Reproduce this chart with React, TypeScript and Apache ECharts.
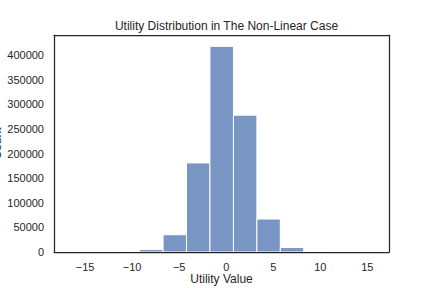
import React, { useEffect, useRef } from "react";
import * as echarts from "echarts";

const title = "Utility Distribution in The Non-Linear Case";
const xLabel = "Utility Value";
const yLabel = "Count";
const binEdges = [-16.68, -14.19, -11.70, -9.20, -6.71, -4.22, -1.73, 0.77, 3.26, 5.75, 8.24, 10.73, 13.23, 15.72];
const counts = [0, 20, 400, 5000, 35000, 181000, 418000, 278000, 67000, 9000, 600, 30, 0];
const xTicks = [-15, -10, -5, 0, 5, 10, 15];
const yTicks = [0, 50000, 100000, 150000, 200000, 250000, 300000, 350000, 400000];

export default function App() {
  const ref = useRef<HTMLDivElement>(null);
  useEffect(() => {
    if (!ref.current) return;
    const chart = echarts.init(ref.current, undefined, { renderer: "svg" });
    const data = counts.map((c, i) => [binEdges[i], binEdges[i + 1], c]);
    const font = "Liberation Sans, Arial, sans-serif";
    const axisColor = "#262626";
    const spine = { show: true, onZero: false, lineStyle: { color: axisColor, width: 1.25 } };
    chart.setOption({
      animation: false,
      title: {
        text: title,
        left: 221.5,
        textAlign: "center",
        top: 15,
        textStyle: { fontFamily: font, fontSize: 12, fontWeight: "normal", color: axisColor },
      },
      grid: {
        left: 54, right: 43, top: 35, bottom: 36,
        show: false,
        containLabel: false, outerBoundsMode: "none",
      },
      xAxis: [
        {
          type: "value",
          min: -18.3,
          max: 17.3,
          z: 10,
          name: xLabel,
          nameLocation: "middle",
          nameGap: 21,
          nameMoveOverlap: false,
          nameTextStyle: { fontFamily: font, fontSize: 12, color: axisColor },
          axisLine: spine,
          axisTick: { show: false },
          splitLine: { show: false },
          axisLabel: {
            customValues: xTicks,
            fontFamily: font,
            fontSize: 11,
            color: axisColor,
            margin: 9,
            formatter: (v: number) => String(v).replace("-", "\u2212"),
          },
        },
        {
          type: "value",
          position: "top",
          min: -18.3,
          max: 17.3,
          z: 10,
          axisLine: spine,
          axisTick: { show: false },
          splitLine: { show: false },
          axisLabel: { show: false },
        },
      ],
      yAxis: [
        {
          type: "value",
          min: 0,
          max: 441000,
          z: 10,
          name: yLabel,
          nameLocation: "middle",
          nameGap: 51,
          nameMoveOverlap: false,
          nameTextStyle: { fontFamily: font, fontSize: 12, color: axisColor },
          axisLine: spine,
          axisTick: { show: false },
          splitLine: { show: false },
          axisLabel: {
            customValues: yTicks,
            fontFamily: font,
            fontSize: 11,
            color: axisColor,
            margin: 10,
            formatter: (v: number) => String(v),
          },
        },
        {
          type: "value",
          position: "right",
          min: 0,
          max: 441000,
          z: 10,
          axisLine: spine,
          axisTick: { show: false },
          splitLine: { show: false },
          axisLabel: { show: false },
        },
      ],
      series: [
        {
          type: "custom",
          xAxisIndex: 0,
          yAxisIndex: 0,
          data,
          encode: { x: [0, 1], y: 2 },
          renderItem: (params: any, api: any) => {
            if (!api.value(2)) return null;
            const p0 = api.coord([api.value(0), api.value(2)]);
            const p1 = api.coord([api.value(1), 0]);
            return {
              type: "rect",
              shape: { x: p0[0], y: p0[1], width: p1[0] - p0[0], height: p1[1] - p0[1] },
              style: { fill: "#7995c4", stroke: "#ffffff", lineWidth: 1 },
            };
          },
        },
      ],
    });
    return () => chart.dispose();
  }, []);
  return <div ref={ref} style={{ position: "fixed", left: 0, top: 0, width: 432, height: 288, background: "#fff" }} />;
}
